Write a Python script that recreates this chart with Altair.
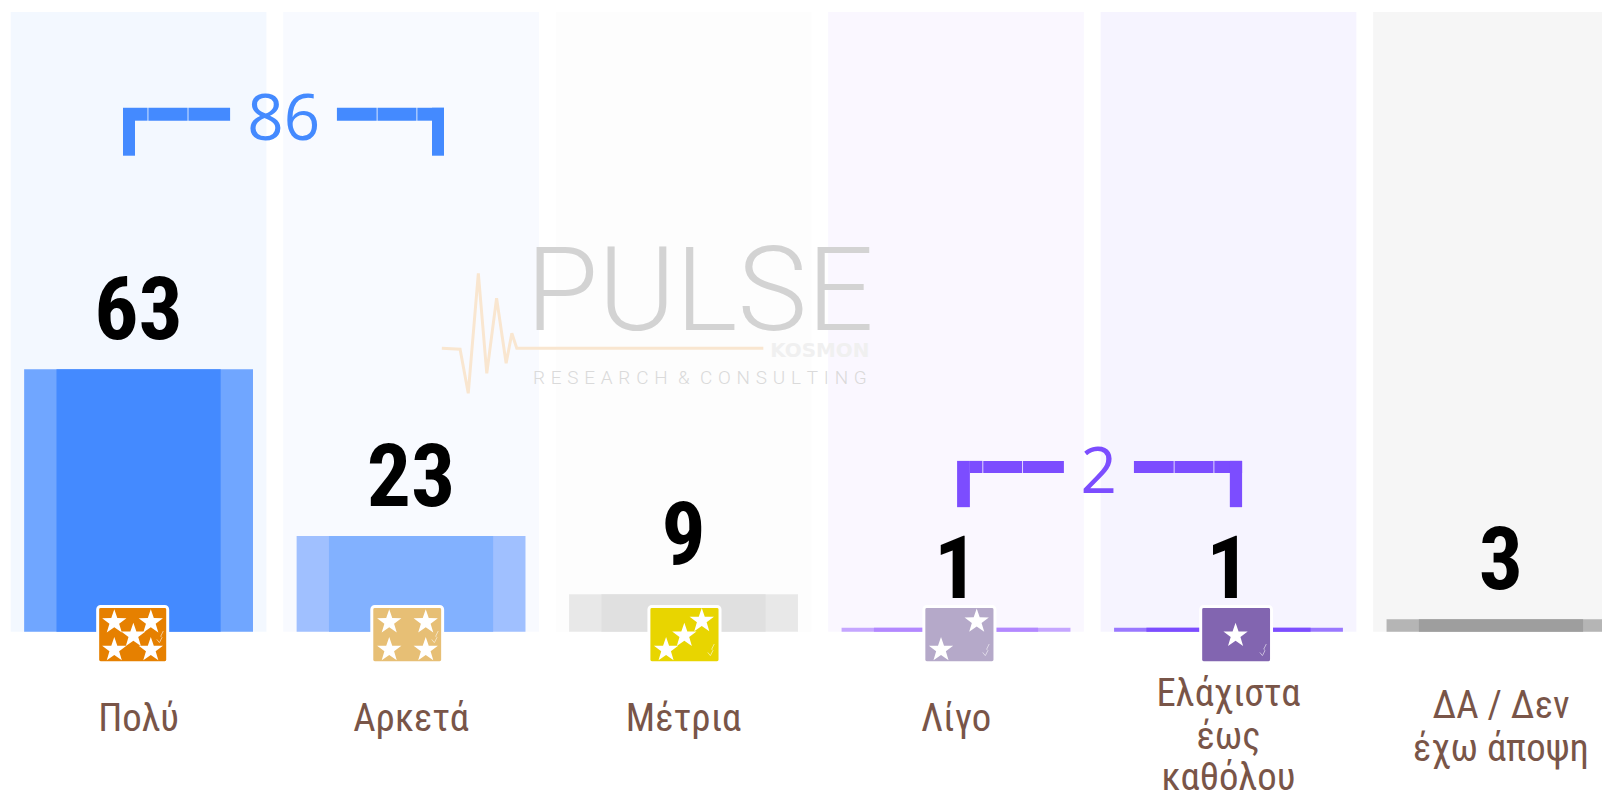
import altair as alt
import pandas as pd

# --- categories and values
categories = ["Πολύ", "Αρκετά", "Μέτρια", "Λίγο", "Ελάχιστα έως καθόλου", "ΔΑ / Δεν έχω άποψη"]
values = [63, 23, 9, 1, 1, 3]
panel_colors = ["#F3F8FF", "#F8FAFF", "#FDFDFD", "#FAF7FF", "#F6F4FF", "#F6F6F6"]
inner_colors = ["#448AFF", "#82B1FF", "#E0E0E0", "#B388FF", "#7C4DFF", "#9E9E9E"]
outer_colors = ["#70A6FF", "#A0C0FF", "#E8E8E8", "#C5A6FF", "#9A78FF", "#B5B5B5"]

# category label lines: (category index, line, height in value units)
label_lines = [
    (0, "Πολύ", -20.9), (1, "Αρκετά", -20.9), (2, "Μέτρια", -20.9), (3, "Λίγο", -20.9),
    (4, "Ελάχιστα", -14.9), (4, "έως", -25.2), (4, "καθόλου", -35.0),
    (5, "ΔΑ / Δεν", -17.8), (5, "έχω άποψη", -28.1),
]

# annotations in slot units (category index) and value units
bracket_86 = [
    (-0.057, -0.013, 125.7, 114.2), (-0.013, 0.033, 125.7, 122.6),
    (0.036, 0.180, 125.7, 122.6), (0.183, 0.336, 125.7, 122.6),
    (0.728, 0.874, 125.7, 122.6), (0.877, 1.020, 125.7, 122.6),
    (1.023, 1.121, 125.7, 122.6), (1.077, 1.121, 125.7, 114.2),
]
bracket_2 = [
    (3.004, 3.051, 41.0, 29.9), (3.051, 3.097, 41.0, 38.1),
    (3.100, 3.243, 41.0, 38.1), (3.246, 3.396, 41.0, 38.1),
    (3.653, 3.799, 41.0, 38.1), (3.802, 3.945, 41.0, 38.1),
    (3.948, 4.050, 41.0, 38.1), (4.005, 4.050, 41.0, 29.9),
]
totals = [(0.533, 122.6, "86", "#448AFF"), (3.524, 37.8, "2", "#7C4DFF")]

icons = [
    (-0.150, 0.107, "#E68000"), (0.856, 1.116, "#E7BF75"), (1.873, 2.134, "#E8D500"),
    (2.882, 3.143, "#B5A9C9"), (3.898, 4.158, "#8265B0"),
]
stars = [
    (-0.089, 2.33), (0.045, 2.33), (-0.019, -0.89), (-0.089, -4.32), (0.045, -4.32),
    (0.920, 2.33), (1.054, 2.33), (0.920, -4.32), (1.054, -4.32),
    (2.067, 2.64), (2.003, -0.89), (1.936, -4.32),
    (3.076, 2.5), (2.945, -4.32),
    (4.026, -0.89),
]
checks = [(0.079, -1.2), (1.088, -1.2), (2.101, -4.32), (3.11, -4.32), (4.127, -4.32)]

pulse_x = [1.113, 1.180, 1.210, 1.247, 1.278, 1.314, 1.349, 1.370, 1.388, 2.293]
pulse_y = [68.0, 67.8, 57.2, 86.0, 62.0, 80.0, 64.4, 71.6, 68.0, 68.0]

STAR = "M0,-1L0.235,-0.32L0.95,-0.31L0.38,0.12L0.59,0.81L0,0.4L-0.59,0.81L-0.38,0.12L-0.95,-0.31L-0.235,-0.32Z"
CHECK = "M-0.5,0.4L-0.1,0.9L0.3,0.1L0.1,-0.1L0.5,-0.9"
NARROW = "Roboto Condensed, Roboto"

df = pd.DataFrame({
    "cat": categories, "v": values, "base": [0] * 6, "top": [148.7] * 6,
    "panel": panel_colors, "inner": inner_colors, "outer": outer_colors,
})
lines_df = pd.DataFrame(
    [{"cat": categories[i], "line": t, "y": y} for i, t, y in label_lines]
)
seg_df = pd.DataFrame(
    [dict(x=a, x2=b, y=c, y2=d, c="#448AFF") for a, b, c, d in bracket_86]
    + [dict(x=a, x2=b, y=c, y2=d, c="#7C4DFF") for a, b, c, d in bracket_2]
)
tot_df = pd.DataFrame(totals, columns=["x", "y", "t", "c"])
icon_df = pd.DataFrame(
    [dict(x=a, x2=b, y=6.1, y2=-7.4, c=c) for a, b, c in icons]
)
star_df = pd.DataFrame(stars, columns=["x", "y"])
check_df = pd.DataFrame(checks, columns=["x", "y"])
pulse_df = pd.DataFrame({"x": pulse_x, "y": pulse_y})
mark_df = pd.DataFrame([dict(x=2.06, y=72.4, t="PULSE")])
kos_df = pd.DataFrame([dict(x=2.5, y=65.9, t="KOSMON")])
thin = "\u2009\u200a"
res_df = pd.DataFrame([dict(x=2.06, y=59.5, t=thin.join("RESEARCH") + thin + " & " + thin + thin.join("CONSULTING"))])

W, H = 1602, 785
yscale = alt.Scale(domain=[-38.19, 149.16], range=[H, 0], nice=False, zero=False)
band = alt.Scale(domain=categories, range=[-5.7, 1637.4], paddingInner=0, paddingOuter=0)
slot = alt.Scale(domain=[-0.4791, 5.3708], range=[0, W], nice=False, zero=False)

X = alt.X("cat:N", scale=band, axis=None, sort=categories)
Y = lambda f: alt.Y(f"{f}:Q", scale=yscale, axis=None)
SX = alt.X("x:Q", scale=slot, axis=None)
SY = alt.Y("y:Q", scale=yscale, axis=None)
C = lambda f: alt.Color(f"{f}:N", scale=None, legend=None)

base = alt.Chart(df)
panels = base.mark_bar(width=257).encode(x=X, y=Y("top"), y2="base:Q", color=C("panel"))
outer = base.mark_bar(width=230).encode(x=X, y=Y("v"), y2="base:Q", color=C("outer"))
inner = base.mark_bar(width=165).encode(x=X, y=Y("v"), y2="base:Q", color=C("inner"))
value_text = base.mark_text(
    font=NARROW, fontWeight="bold", fontSize=88, baseline="alphabetic", align="center", dy=-30, color="#000000"
).encode(x=X, y=Y("v"), text="v:Q")
cat_text = alt.Chart(lines_df).mark_text(
    font=NARROW, fontSize=39, baseline="middle", align="center", color="#795548"
).encode(x=X, y=Y("y"), text="line:N")

segs = alt.Chart(seg_df).mark_rect().encode(
    x=SX, x2="x2:Q", y=SY, y2="y2:Q", color=C("c")
)
tot = alt.Chart(tot_df).mark_text(
    font="Open Sans", fontSize=64, baseline="middle", align="center"
).encode(x=SX, y=SY, text="t:N", color=C("c"))
icon = alt.Chart(icon_df).mark_rect(cornerRadius=3, stroke="#FFFFFF", strokeWidth=3).encode(
    x=SX, x2="x2:Q", y=SY, y2="y2:Q", color=C("c")
)
star = alt.Chart(star_df).mark_point(
    shape=STAR, filled=True, size=660, color="#FFFFFF", opacity=1
).encode(x=SX, y=SY)
check = alt.Chart(check_df).mark_point(
    shape=CHECK, filled=False, size=170, color="#FFFFFF", opacity=0.55, strokeWidth=1
).encode(x=SX, y=SY)
pulse = alt.Chart(pulse_df).mark_line(color="#F9E6D0", strokeWidth=3).encode(x=SX, y=SY)
pulse_word = alt.Chart(mark_df).mark_text(
    font="Roboto", fontWeight=300, fontSize=118, baseline="alphabetic", align="center", color="#D3D3D3"
).encode(x=SX, y=SY, text="t:N")
kosmon = alt.Chart(kos_df).mark_text(
    font="DejaVu Sans", fontWeight="bold", fontSize=20, baseline="alphabetic", align="center", color="#F0F0F0"
).encode(x=SX, y=SY, text="t:N")
research = alt.Chart(res_df).mark_text(
    font="Roboto", fontWeight=300, fontSize=19, baseline="alphabetic", align="center", color="#DADADA"
).encode(x=SX, y=SY, text="t:N")

chart = alt.layer(
    panels, outer, inner, pulse, pulse_word, kosmon, research,
    value_text, cat_text, segs, tot, icon, star, check,
).resolve_scale(x="independent").properties(
    width=W, height=H, padding=0, autosize=alt.AutoSizeParams(type="none"), background="#FFFFFF"
).configure_view(stroke=None)

chart.save("out.html", embed_options={"renderer": "svg", "actions": False})
